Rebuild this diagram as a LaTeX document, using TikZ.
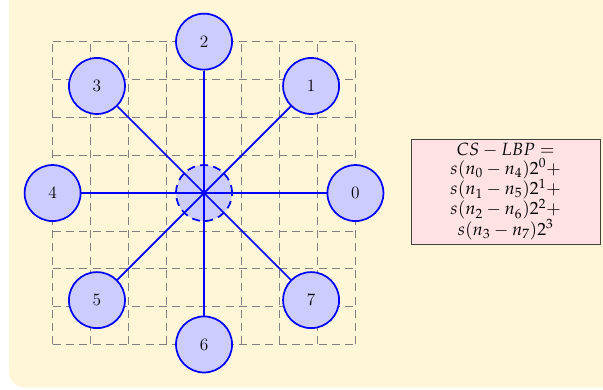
\documentclass[tikz,border=0pt]{standalone}
\usepackage{mathpazo}
\definecolor{bgyellow}{RGB}{255,245,215}
\definecolor{boxpink}{RGB}{255,226,228}
\tikzset{
  longdash/.style={dash pattern=on 6pt off 4pt},
  pix/.style={circle,draw=blue,fill=blue!20,line width=1.3pt,minimum size=1.48cm,inner sep=0pt,font=\fontsize{13}{15}\selectfont},
  spoke/.style={blue,line width=1.3pt},
  formula/.style={draw=black!75,fill=boxpink,minimum width=4.99cm,minimum height=2.72cm,align=center,font=\fontsize{13.3}{15}\selectfont}
}
\begin{document}
\begin{tikzpicture}
\useasboundingbox (-5.39,-5.18) rectangle (10.54,5.10);
% background
\begin{scope}
\clip (-5.39,-5.18) rectangle (10.54,5.10);
\fill[bgyellow,rounded corners=0.4cm] (-5.15,-5.13) rectangle (11,5.6);
\end{scope}
\draw[gray,longdash,line width=0.6pt,step=1] (-4,-4) grid (4,4);
% center pixel and its neighbours
\node[pix,longdash] (c) at (0,0) {};
\foreach \i in {0,...,7} \node[pix] (n\i) at (\i*45:4) {\i};
\foreach \i in {0,...,7} \draw[spoke] (c.center) -- (n\i);
\node[formula] (f) at (7.97,0.04) {$CS-LBP=$\\[-1pt] $s(n_0-n_4)2^0+$\\[-1pt] $s(n_1-n_5)2^1+$\\[-1pt] $s(n_2-n_6)2^2+$\\[-1pt] $s(n_3-n_7)2^3$};
\end{tikzpicture}
\end{document}
